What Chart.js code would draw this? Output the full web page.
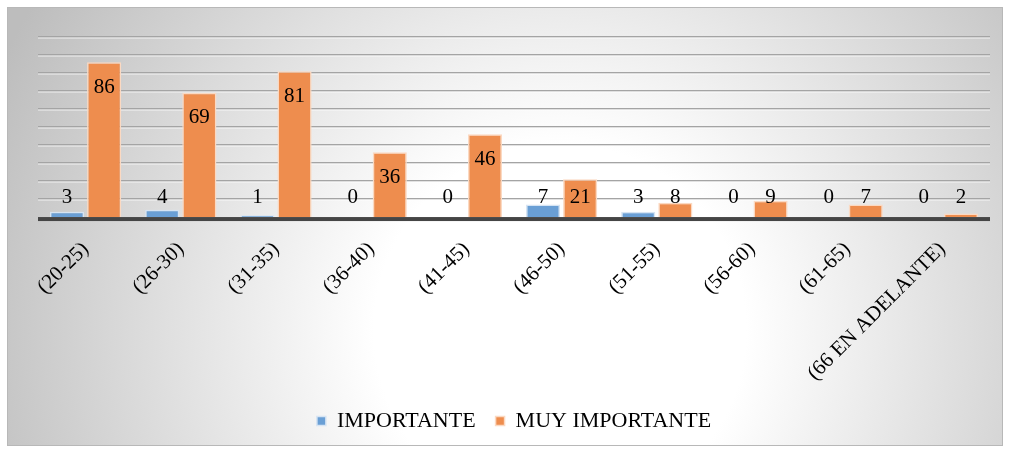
<!DOCTYPE html>
<html>
<head>
<meta charset="utf-8">
<script src="https://cdn.jsdelivr.net/npm/chart.js@4.4.1/dist/chart.umd.min.js"></script>
<style>
  html, body { margin: 0; padding: 0; background: #ffffff; }
  #wrap { width: 1009px; height: 452px; position: relative; }
</style>
</head>
<body>
<div id="wrap"><canvas id="c" width="1009" height="452"></canvas></div>
<script>
const categories = ['(20-25)', '(26-30)', '(31-35)', '(36-40)', '(41-45)', '(46-50)', '(51-55)', '(56-60)', '(61-65)', '(66 EN ADELANTE)'];
const importante = [3, 4, 1, 0, 0, 7, 3, 0, 0, 0];
const muyImportante = [86, 69, 81, 36, 46, 21, 8, 9, 7, 2];
const seriesNames = ['IMPORTANTE', 'MUY IMPORTANTE'];
const yTicks = [10, 20, 30, 40, 50, 60, 70, 80, 90, 100];

const FONT = '"Liberation Serif", "Times New Roman", serif';

const bgPlugin = {
  id: 'bg',
  beforeDraw(chart) {
    const ctx = chart.ctx;
    const x0 = 7, y0 = 7, x1 = 1003, y1 = 446;
    ctx.save();
    const g = ctx.createRadialGradient(560, 330, 0, 560, 330, 620);
    g.addColorStop(0, '#ffffff');
    g.addColorStop(0.3, '#ffffff');
    g.addColorStop(1, '#bdbdbd');
    ctx.fillStyle = g;
    ctx.fillRect(x0, y0, x1 - x0, y1 - y0);
    ctx.strokeStyle = '#b8b8b8';
    ctx.lineWidth = 1;
    ctx.strokeRect(x0 + 0.5, y0 + 0.5, x1 - x0 - 1, y1 - y0 - 1);
    ctx.restore();
  },
  beforeDatasetsDraw(chart) {
    const ctx = chart.ctx;
    const ys = chart.scales.y;
    const a = chart.chartArea;
    ctx.save();
    yTicks.forEach(v => {
      const p = Math.round(ys.getPixelForValue(v));
      ctx.fillStyle = '#a4a4a4';
      ctx.fillRect(a.left, p - 1, a.right - a.left, 1.5);
      ctx.fillStyle = 'rgba(255,255,255,0.75)';
      ctx.fillRect(a.left, p + 0.5, a.right - a.left, 1);
    });
    ctx.restore();
  },
  afterDatasetsDraw(chart) {
    const ctx = chart.ctx;
    const ys = chart.scales.y;
    const a = chart.chartArea;
    const p0 = ys.getPixelForValue(0);
    ctx.save();
    ctx.fillStyle = '#454545';
    ctx.fillRect(a.left, p0, a.right - a.left, 4);
    // data labels
    ctx.font = '21px ' + FONT;
    ctx.fillStyle = '#000000';
    ctx.textAlign = 'center';
    ctx.textBaseline = 'middle';
    const floorY = ys.getPixelForValue(11);
    chart.data.datasets.forEach((ds, di) => {
      const meta = chart.getDatasetMeta(di);
      meta.data.forEach((bar, i) => {
        const y = Math.min(bar.y + 25, floorY);
        ctx.fillText(String(ds.data[i]), bar.x, y);
      });
    });
    ctx.restore();
  }
};

new Chart(document.getElementById('c'), {
  type: 'bar',
  data: {
    labels: categories,
    datasets: [
      {
        label: seriesNames[0],
        data: importante,
        backgroundColor: '#6a9fd5',
        borderColor: '#d6e4f3',
        borderWidth: 1.5,
        borderSkipped: 'bottom',
        categoryPercentage: 0.78,
        barPercentage: 0.92
      },
      {
        label: seriesNames[1],
        data: muyImportante,
        backgroundColor: '#ee8d4e',
        borderColor: '#fbd9c2',
        borderWidth: 1.5,
        borderSkipped: 'bottom',
        categoryPercentage: 0.78,
        barPercentage: 0.92
      }
    ]
  },
  options: {
    responsive: false,
    animation: false,
    layout: { padding: { left: 38, right: 19, top: 37, bottom: 10 } },
    scales: {
      x: {
        grid: { display: false },
        border: { display: false },
        ticks: {
          maxRotation: 45,
          minRotation: 45,
          color: '#000000',
          font: { family: FONT, size: 21 },
          padding: 12
        },
        afterFit(scale) {
          scale.paddingLeft = 0;
          scale.paddingRight = 0;
          scale.height -= 8;
        }
      },
      y: {
        display: false,
        min: 0,
        max: 100
      }
    },
    plugins: {
      legend: {
        position: 'bottom',
        labels: {
          color: '#000000',
          font: { family: FONT, size: 22 },
          boxWidth: 9,
          boxHeight: 9,
          padding: 20,
          useBorderRadius: false
        },
        onClick: null
      },
      tooltip: { enabled: false }
    }
  },
  plugins: [bgPlugin]
});
</script>
</body>
</html>
